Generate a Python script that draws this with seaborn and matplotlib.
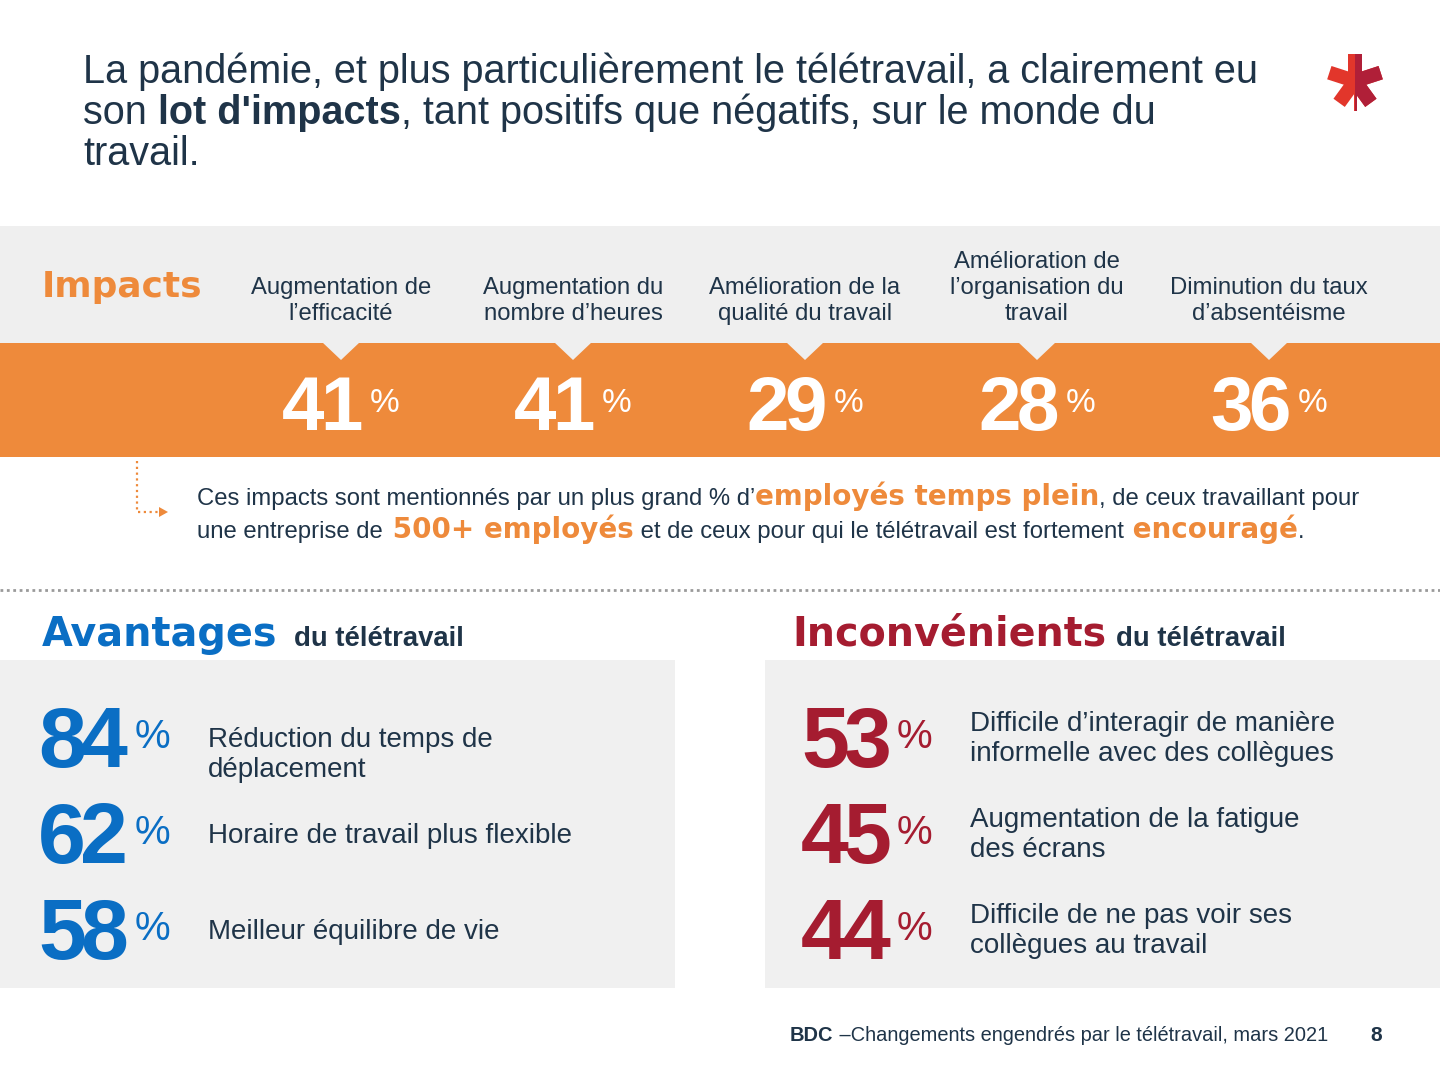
import math
import matplotlib
matplotlib.use("Agg")
import matplotlib.pyplot as plt
import seaborn as sns
from matplotlib.patches import Rectangle, Polygon

# --- data ---
title_lines = [
    [("La pandémie, et plus particulièrement le télétravail, a clairement eu", "normal")],
    [("son ", "normal"), ("lot d'impacts", "bold"), (", tant positifs que négatifs, sur le monde du", "normal")],
    [("travail.", "normal")],
]
impact_labels = [
    "Augmentation de\nl’efficacité",
    "Augmentation du\nnombre d’heures",
    "Amélioration de la\nqualité du travail",
    "Amélioration de\nl’organisation du\ntravail",
    "Diminution du taux\nd’absentéisme",
]
impact_values = [41, 41, 29, 28, 36]

adv_labels = ["Réduction du temps de\ndéplacement", "Horaire de travail plus flexible", "Meilleur équilibre de vie"]
adv_values = [84, 62, 58]
inc_labels = ["Difficile d’interagir de manière\ninformelle avec des collègues",
              "Augmentation de la fatigue\ndes écrans",
              "Difficile de ne pas voir ses\ncollègues au travail"]
inc_values = [53, 45, 44]

note_lines = [
    [("Ces impacts sont mentionnés par un plus grand % d’", "n"), ("employés temps plein", "o"),
     (", de ceux travaillant pour", "n")],
    [("une entreprise de", "n"), (" 500+ employés", "o"),
     (" et de ceux pour qui le télétravail est fortement", "n"), (" encouragé", "o"), (".", "n")],
]
source = ("BDC", " –Changements engendrés par le télétravail, mars 2021")
page = "8"

NAVY = "#1f3448"
ORANGE = "#ee8a3b"
GRAY = "#f0f0f0"
BLUE = "#0a6ec4"
RED = "#a51c30"

sns.set_theme(style="white")
plt.rcParams["font.family"] = ["Liberation Sans", "DejaVu Sans"]

fig = plt.figure(figsize=(14.4, 10.8), dpi=100)
ax = fig.add_axes([0, 0, 1, 1])
ax.set_xlim(0, 1440)
ax.set_ylim(1080, 0)
ax.axis("off")
renderer = fig.canvas.get_renderer()


def run_text(x, y, parts, **kw):
    for txt, props in parts:
        t = ax.text(x, y, txt, va="baseline", ha="left", **kw, **props)
        x += t.get_window_extent(renderer=renderer).width
    return x


def big_number(x, y, value, size, color, step=0.49):
    # digits drawn one by one so they can sit tight like the slide's condensed numerals
    px = size * 100 / 72
    for i, d in enumerate(str(value)):
        ax.text(x + i * step * px, y, d, fontsize=size, color=color, fontweight="bold",
                va="baseline", ha="left")


# title
for i, line in enumerate(title_lines):
    run_text(83, 83 + i * 41, [(t, dict(fontweight=w)) for t, w in line], fontsize=28.5, color=NAVY)

# asterisk logo
cx, cy = 1355, 81
arms = []
for ang in [90, 18, 162, -54, -126]:
    dx, dy = math.cos(math.radians(ang)), -math.sin(math.radians(ang))
    nx, ny = -dy, dx
    L, w = 27, 7
    arms.append([(cx + nx * w, cy + ny * w), (cx - nx * w, cy - ny * w),
                 (cx - nx * w + dx * L, cy - ny * w + dy * L), (cx + nx * w + dx * L, cy + ny * w + dy * L)])
for col, clip in [("#e2362b", None), ("#b01f38", Rectangle((cx, 40), 60, 90, transform=ax.transData))]:
    for pts in arms:
        p = ax.add_patch(Polygon(pts, closed=True, color=col, lw=0))
        if clip is not None:
            p.set_clip_path(clip)
    s = ax.add_patch(Rectangle((cx - 1.5, cy), 3, 30, color=col, lw=0))
    if clip is not None:
        s.set_clip_path(clip)

# impacts band
ax.add_patch(Rectangle((0, 226), 1440, 117, color="#efefef", lw=0))
ax.add_patch(Rectangle((0, 343), 1440, 114, color=ORANGE, lw=0))
ax.text(42, 297, "Impacts", fontsize=25.8, color=ORANGE, fontweight="bold", family="DejaVu Sans", va="baseline")
for i, (lab, val) in enumerate(zip(impact_labels, impact_values)):
    c = 341 + i * 232
    lines = lab.split("\n")
    for k, ln in enumerate(lines):
        ax.text(c, 320 - (len(lines) - 1 - k) * 26, ln, fontsize=17.2, color=NAVY, ha="center", va="baseline")
    ax.add_patch(Polygon([(c - 19, 342), (c + 19, 342), (c, 360)], closed=True, color="#efefef", lw=0))
    big_number(c - 59, 430, val, 55, "white", step=0.5)
    ax.text(c + 29, 412, "%", fontsize=24, color="white", va="baseline")

# dotted arrow + note
ax.plot([137, 137, 160], [461, 512, 512], color=ORANGE, lw=1.6, linestyle=(0, (1, 1.6)))
ax.add_patch(Polygon([(159, 507), (168, 512), (159, 517)], closed=True, color=ORANGE, lw=0))
for i, line in enumerate(note_lines):
    parts = []
    for t, k in line:
        if k == "o":
            parts.append((t, dict(fontsize=20, color=ORANGE, fontweight="bold", family="DejaVu Sans")))
        else:
            parts.append((t, dict(fontsize=17.2, color=NAVY)))
    run_text(197, 505 + i * 33, parts)

# separator
ax.plot([0, 1440], [590, 590], color="#9a9a9a", lw=2, linestyle=(0, (1, 1.3)))

# section headers
x = run_text(42, 646, [("Avantages", dict(fontsize=28.6, color=BLUE, fontweight="bold", family="DejaVu Sans"))])
ax.text(x + 17, 646, "du télétravail", fontsize=19.8, color=NAVY, fontweight="bold", va="baseline")
x = run_text(792, 646, [("Inconvénients", dict(fontsize=28.5, color=RED, fontweight="bold", family="DejaVu Sans"))])
ax.text(x + 10, 646, "du télétravail", fontsize=19.8, color=NAVY, fontweight="bold", va="baseline")

ax.add_patch(Rectangle((0, 660), 675, 328, color=GRAY, lw=0))
ax.add_patch(Rectangle((765, 660), 675, 328, color=GRAY, lw=0))

for i, (lab, val) in enumerate(zip(adv_labels, adv_values)):
    ry = 737 + i * 96
    big_number(38, ry + 30, val, 62, BLUE)
    ax.text(135, ry + 11, "%", fontsize=29, color=BLUE, va="baseline")
    for k, ln in enumerate(lab.split("\n")):
        ax.text(208, ry + 10 + k * 30, ln, fontsize=20, color=NAVY, va="baseline")

for i, (lab, val) in enumerate(zip(inc_labels, inc_values)):
    ry = 737 + i * 96
    big_number(801, ry + 30, val, 62, RED)
    ax.text(897, ry + 11, "%", fontsize=29, color=RED, va="baseline")
    lines = lab.split("\n")
    for k, ln in enumerate(lines):
        ax.text(970, ry + 9 - 15 * (len(lines) - 1) + k * 30, ln, fontsize=20, color=NAVY, va="baseline")

# footer
run_text(790, 1041, [(source[0], dict(fontweight="bold")), (source[1], dict())], fontsize=14.4, color=NAVY)
ax.text(1370, 1041, page, fontsize=15, fontweight="bold", color=NAVY, va="baseline")

fig.savefig("out.png", dpi=100, facecolor="white")
